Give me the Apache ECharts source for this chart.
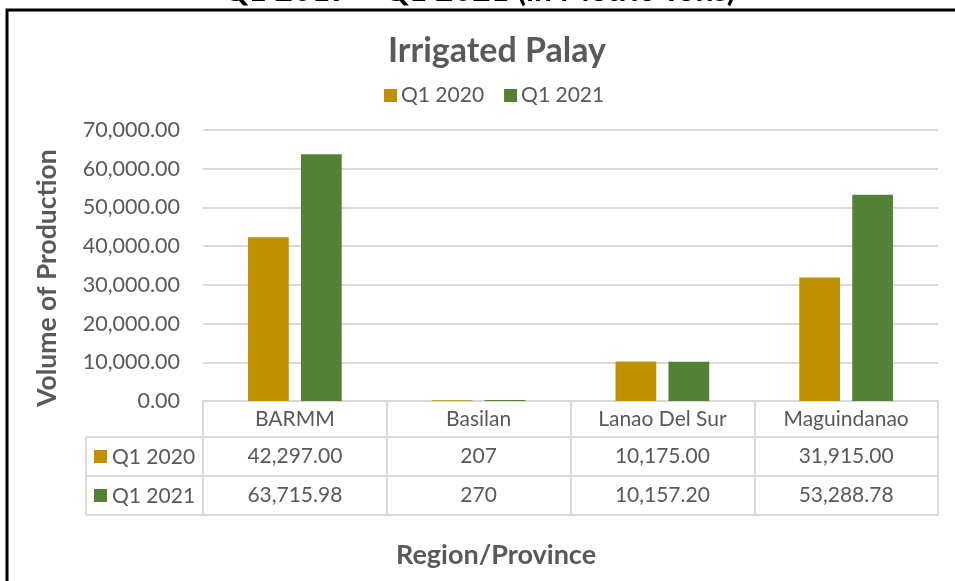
<!DOCTYPE html>
<html>
<head>
<meta charset="utf-8">
<script src="https://cdn.jsdelivr.net/npm/echarts@6/dist/echarts.min.js"></script>
<style>
  html, body { margin: 0; padding: 0; background: #fff; }
  #chart { width: 955px; height: 581px; }
</style>
</head>
<body>
<div id="chart"></div>
<script>
// data
const categories = ['BARMM', 'Basilan', 'Lanao Del Sur', 'Maguindanao'];
const seriesNames = ['Q1 2020', 'Q1 2021'];
const q2020 = [42297.00, 207, 10175.00, 31915.00];
const q2021 = [63715.98, 270, 10157.20, 53288.78];
const tableDecimals = [2, 0, 2, 2]; // Basilan row shows plain integers
const yTicks = { min: 0, max: 70000, interval: 10000 };

const colors = ['#BF9000', '#538135'];
const textColor = '#595959';
const lineColor = '#D9D9D9';
const font = 'Lato';

const fmt = (v, d) => v.toLocaleString('en-US', { minimumFractionDigits: d, maximumFractionDigits: d });

const chart = echarts.init(document.getElementById('chart'));

// layout of the plot + data table (pixels)
const gridLeft = 203, gridRight = 17, gridTop = 130, gridBottom = 180;
const rowH = [36, 39, 39]; // header row, Q1 2020 row, Q1 2021 row
const tableTop = 581 - gridBottom;
const row1 = tableTop + rowH[0];
const row2 = row1 + rowH[1];
const row3 = row2 + rowH[2];
const leftColX = 86;

const rowAxis = (offset, values) => ({
  type: 'category',
  data: categories,
  position: 'bottom',
  offset: offset,
  axisLine: { show: true, lineStyle: { color: lineColor, width: 2 } },
  axisTick: { show: false },
  axisLabel: values ? {
    show: true, interval: 0, margin: 9,
    color: textColor, fontFamily: font, fontSize: 21,
    formatter: (v, i) => fmt(values[i], tableDecimals[i])
  } : { show: false }
});

const legendRows = [row1, row2].map((y, i) => [
  {
    type: 'rect',
    shape: { x: 94, y: y + rowH[i + 1] / 2 - 6.5, width: 13, height: 13 },
    style: { fill: colors[i] }
  },
  {
    type: 'text',
    x: 112, y: y + rowH[i + 1] / 2 + 1,
    style: { text: seriesNames[i], fill: textColor, font: '21px ' + font, verticalAlign: 'middle' }
  }
]).flat();

const option = {
  animation: false,
  textStyle: { fontFamily: font },
  title: {
    text: 'Irrigated Palay',
    left: 492, top: 29, textAlign: 'center',
    textStyle: { color: textColor, fontSize: 34, fontWeight: 'bold', fontFamily: font }
  },
  legend: {
    data: seriesNames,
    left: 379, top: 80,
    icon: 'rect', itemWidth: 13, itemHeight: 13, itemGap: 20,
    textStyle: { color: textColor, fontSize: 21, fontFamily: font, padding: [0, 0, 0, -1] }
  },
  grid: { left: gridLeft, right: gridRight, top: gridTop, bottom: gridBottom, containLabel: false },
  xAxis: [
    {
      type: 'category',
      data: categories,
      position: 'bottom',
      axisLine: { show: true, lineStyle: { color: lineColor, width: 2 } },
      axisTick: { show: true, length: row3 - tableTop, interval: 0, lineStyle: { color: lineColor, width: 2 } },
      axisLabel: { interval: 0, margin: 8, color: textColor, fontFamily: font, fontSize: 21 }
    },
    rowAxis(rowH[0], q2020),
    rowAxis(rowH[0] + rowH[1], q2021),
    rowAxis(rowH[0] + rowH[1] + rowH[2], null)
  ],
  yAxis: {
    type: 'value',
    min: yTicks.min, max: yTicks.max, interval: yTicks.interval,
    axisLine: { show: false },
    axisTick: { show: false },
    splitLine: { lineStyle: { color: lineColor, width: 2 } },
    axisLabel: {
      margin: 23, color: textColor, fontFamily: font, fontSize: 21.5,
      formatter: v => fmt(v, 2)
    }
  },
  series: [
    { name: seriesNames[0], type: 'bar', data: q2020, itemStyle: { color: colors[0] }, barGap: '30%', barCategoryGap: '49%' },
    { name: seriesNames[1], type: 'bar', data: q2021, itemStyle: { color: colors[1] }, barGap: '30%', barCategoryGap: '49%' }
  ],
  graphic: [
    // outer chart frame (right edge is off the picture)
    { type: 'rect', shape: { x: 7, y: 10, width: 1000, height: 600 }, style: { fill: null, stroke: '#000', lineWidth: 3 }, z: 10 },
    // heading cut off at the top
    {
      type: 'text', x: 479, y: -9,
      style: { text: 'Q1 2019 – Q1 2021 (in Metric Tons)', fill: '#000', font: 'bold 32px ' + font, align: 'center', verticalAlign: 'middle' }
    },
    // axis titles
    {
      type: 'text', x: 47, y: 278, rotation: Math.PI / 2,
      style: { text: 'Volume of Production', fill: textColor, font: 'bold 26.5px ' + font, align: 'center', verticalAlign: 'middle' }
    },
    {
      type: 'text', x: 496, y: 555,
      style: { text: 'Region/Province', fill: textColor, font: 'bold 27px ' + font, align: 'center', verticalAlign: 'middle' }
    },
    // data table: series-name column
    { type: 'line', shape: { x1: leftColX, y1: row1, x2: gridLeft, y2: row1 }, style: { stroke: lineColor, lineWidth: 2 } },
    { type: 'line', shape: { x1: leftColX, y1: row2, x2: gridLeft, y2: row2 }, style: { stroke: lineColor, lineWidth: 2 } },
    { type: 'line', shape: { x1: leftColX, y1: row3, x2: gridLeft, y2: row3 }, style: { stroke: lineColor, lineWidth: 2 } },
    { type: 'line', shape: { x1: leftColX, y1: row1, x2: leftColX, y2: row3 }, style: { stroke: lineColor, lineWidth: 2 } },
    ...legendRows
  ]
};

chart.setOption(option);
</script>
</body>
</html>
